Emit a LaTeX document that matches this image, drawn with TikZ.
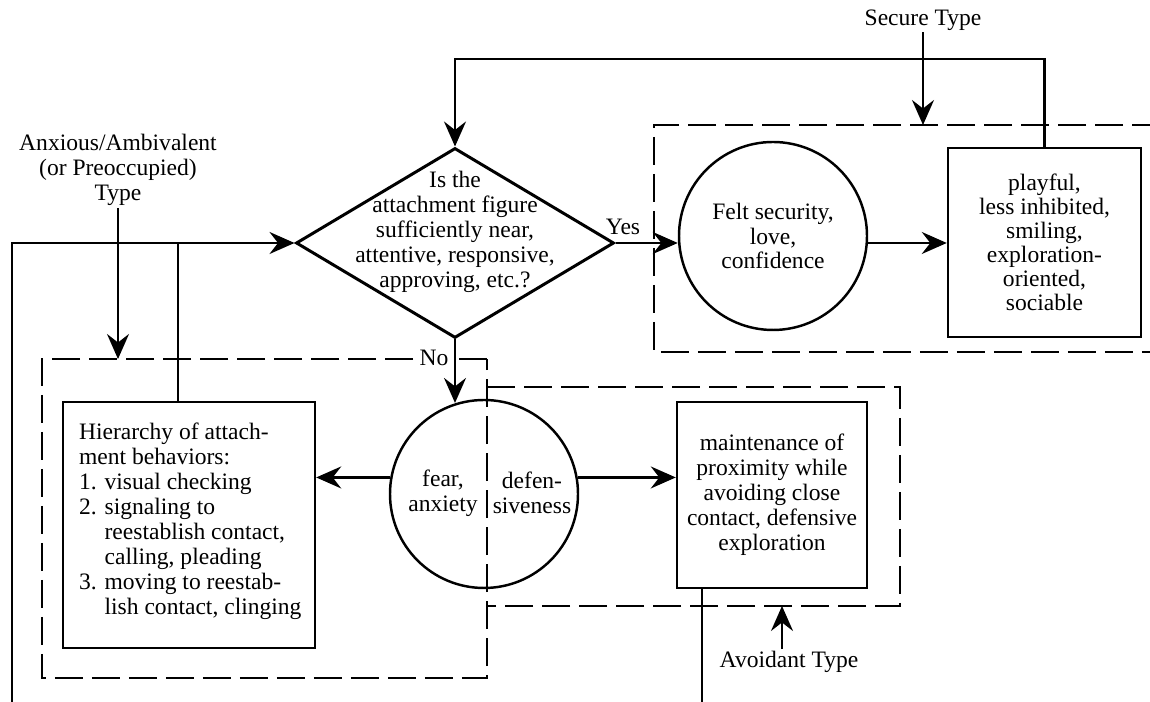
\documentclass[tikz,border=0pt]{standalone}
\usepackage{fontspec}
\setmainfont{Liberation Serif}
\usetikzlibrary{shapes.geometric,arrows.meta}
\tikzset{my diamond/.style={draw, line width=1.7pt, diamond, inner sep=0pt, minimum width=6.36cm, minimum height=3.80cm},
my circle/.style={draw, line width=1.4pt, circle, inner sep=0pt, minimum size=3.76cm, align=center},
my box/.style={draw, line width=1.4pt, inner sep=0pt, align=center},
my text/.style={inner sep=1pt, align=center},
my frame/.style={line width=1.3pt, dash pattern=on 0.56cm off 0.18cm},
my line/.style={line width=1.2pt},
my arrow/.style={line width=1.2pt, -{Stealth[length=0.5cm, width=0.44cm, inset=0.17cm]}},}

\begin{document}
\begin{tikzpicture}[font=\fontsize{13.4}{14.2}\selectfont]
\useasboundingbox (0,0) rectangle (23.00,14.04);
\node [my diamond] (question) at (  9.10,  9.18) {};
\node [my text] (questiontext) at (  9.10,  9.40) {Is the\\attachment figure\\sufficiently near,\\attentive, responsive,\\approving, etc.?};
\node [my circle] (security) at ( 15.46,  9.32) {Felt security,\\love,\\confidence};
\node [my box, minimum width=3.86cm, minimum height=3.78cm, font=\fontsize{13.4}{13.6}\selectfont] (playful) at ( 20.89,  9.19) {playful,\\less inhibited,\\smiling,\\exploration-\\oriented,\\sociable};
\node [my circle] (fear) at (  9.68,  4.16) {};
\node [my text] (feartext) at (  8.86,  4.18) {fear,\\anxiety};
\node [my text] (defensetext) at ( 10.64,  4.18) {defen-\\siveness};
\node [my box, minimum width=5.04cm, minimum height=4.92cm] (hierarchy) at (  3.78,  3.54) {};
\node [my text, align=left, anchor=west] (hierarchytext) at (  1.54,  3.62) {Hierarchy of attach-\\ment behaviors:\\1. visual checking\\2. signaling to\\\hphantom{2. }reestablish contact,\\\hphantom{2. }calling, pleading\\3. moving to reestab-\\\hphantom{3. }lish contact, clinging};
\node [my box, minimum width=3.80cm, minimum height=3.72cm] (maintenance) at ( 15.44,  4.14) {maintenance of\\proximity while\\avoiding close\\contact, defensive\\exploration};

\draw [my frame] ( 23.20, 11.54) -- ( 13.08, 11.54) -- ( 13.08,  7.00) -- ( 23.20,  7.00);
\draw [my frame] (  9.74,  6.86) -- (  0.84,  6.86) -- (  0.84,  0.48) -- (  9.74,  0.48) -- cycle;
\draw [my frame] (  9.74,  6.30) -- ( 18.00,  6.30) -- ( 18.00,  1.92) -- (  9.74,  1.92);

\node [my text] (secure) at ( 18.46, 13.64) {Secure Type};
\node [my text] (anxious) at (  2.36, 10.64) {Anxious/Ambivalent\\(or Preoccupied)\\Type};
\node [my text] (avoidant) at ( 15.78,  0.80) {Avoidant Type};
\node [my text, fill=white, inner sep=2pt] (no) at (  8.68,  6.88) {No};
\node [my text] (yes) at ( 12.46,  9.50) {Yes};

\coordinate (securein) at ( 18.46, 11.54);
\coordinate (anxiousin) at (  2.36,  6.86);
\coordinate (avoidantin) at ( 15.64,  1.92);
\coordinate (leftend) at (  0.24,  0.00);
\coordinate (hierup) at (  3.56,  9.18);
\coordinate (maintdown) at ( 14.04,  0.00);

\draw [my arrow] (secure) -- (securein);
\draw [my arrow] (anxious) -- (anxiousin);
\draw [my arrow] (avoidantin |- avoidant.north) -- (avoidantin);
\draw [my arrow] (playful.north) -- ++(0,1.76) -| (question.north);
\draw [my arrow] (leftend) |- (question.west);
\draw [my line] (hierarchy.north -| hierup) -- (hierup);
\draw [my line] (maintenance.south -| maintdown) -- (maintdown);
\draw [my arrow] (question.east) -- (question.east -| security.west);
\draw [my arrow] (security.east |- question.east) -- (playful.west |- question.east);
\draw [my arrow] (question.south) -- (question.south |- fear.107);
\draw [my arrow] (fear.170) -- (fear.170 -| hierarchy.east);
\draw [my arrow] (fear.10) -- (fear.10 -| maintenance.west);
\end{tikzpicture}
\end{document}
